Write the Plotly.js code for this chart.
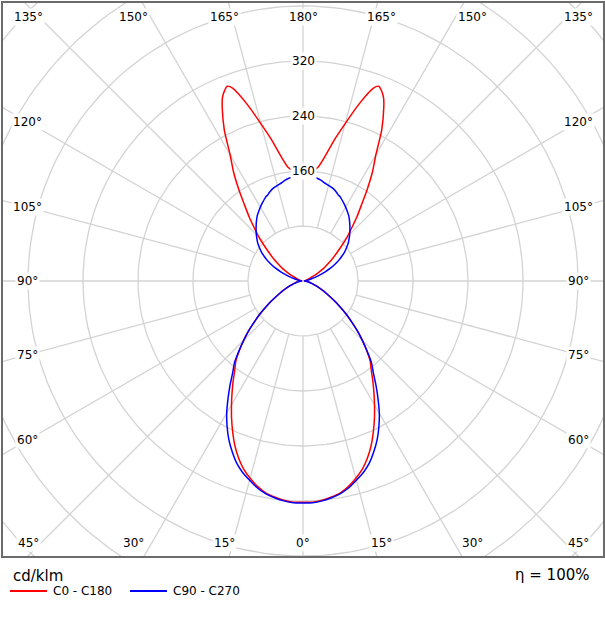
<!DOCTYPE html>
<html><head><meta charset="utf-8">
<script src="https://cdn.plot.ly/plotly-3.0.1.min.js"></script>
<style>html,body{margin:0;padding:0;background:#fff}</style>
</head><body><div id="chart" style="width:605px;height:620px"></div>
<script>
// gamma angle (deg) measured from nadir (0 = straight down, 180 = straight up)
const gamma = [0,2.5,5,7.5,10,12.5,15,17.5,20,22.5,25,27.5,30,32.5,35,37.5,40,42.5,45,47.5,50,52.5,55,57.5,60,62.5,65,67.5,70,72.5,75,77.5,80,82.5,85,87.5,90,
  92.5,95,97.5,100,102.5,105,107.5,110,112.5,115,117.5,120,122.5,125,127.5,130,132.5,135,137.5,140,142.5,145,147.5,150,152.5,155,156.25,157.5,158.75,160,162.5,165,167.5,170,172.5,175,177.5,180];
// luminous intensity, cd/klm — C0 - C180 plane (right half C0, left half C180)
const c0c180 = [322,322,320,317,313,306,297,287,274,259,242,225,208,192,177,163,152,137,122,107,92,79,66,55,45,37,30,25,20,16,13,11,9,7,5,3,2,
  2,2,3,3,4,5,6,8,11,15,22,30,38,46,55,65,77,91,105,122,140,163,188,212,248,278,291,299,304,298,269,237,210,184,167,161,159,158];
// C90 - C270 plane
const c90c270 = [323,323,321,318,314,308,300,292,282,269,255,239,222,203,185,168,155,138,122,107,92,79,66,55,45,37,31,25,20,16,13,10,8,6,4,3,2,
  2,3,5,7,10,13,19,27,35,44,52,60,67,74,80,86,91,96,101,106,111,116,120,124,128,132,134,135,137,139,142,144,146,149,151,152,153,153];
const seriesNames = ['C0 - C180','C90 - C270'];
const seriesColors = ['#ff0000','#0000ff'];
const ringValues = [80,160,240,320,400,480,560,640];
const ringLabelValues = [160,240,320];
const spokeAngles = [0,15,30,45,60,75,90,105,120,135,150,165,180,195,210,225,240,255,270,285,300,315,330,345];
const topLabels = ['135°','150°','165°','180°','165°','150°','135°'];
const sideLabels = ['120°','105°','90°','75°','60°'];
const bottomLabels = ['45°','30°','15°','0°','15°','30°','45°'];
const unitText = 'cd/klm';
const efficiencyText = 'η = 100%';

const FONT = 'DejaVu Sans, Verdana, sans-serif';
const rad = d => d*Math.PI/180;

function profile(vals){
  const x=[], y=[];
  for(let i=0;i<gamma.length;i++){ x.push(vals[i]*Math.sin(rad(gamma[i]))); y.push(-vals[i]*Math.cos(rad(gamma[i]))); }
  for(let i=gamma.length-1;i>=0;i--){ x.push(-vals[i]*Math.sin(rad(gamma[i]))); y.push(-vals[i]*Math.cos(rad(gamma[i]))); }
  return {x,y};
}

// grid
const gx=[], gy=[];
ringValues.forEach(r=>{
  for(let a=0;a<=360;a+=2){ gx.push(r*Math.cos(rad(a))); gy.push(r*Math.sin(rad(a))); }
  gx.push(null); gy.push(null);
});
spokeAngles.forEach(a=>{
  const rIn = ringValues[0], rOut = 900;
  gx.push(rIn*Math.sin(rad(a)), rOut*Math.sin(rad(a)), null);
  gy.push(-rIn*Math.cos(rad(a)), -rOut*Math.cos(rad(a)), null);
});

const red = profile(c0c180), blue = profile(c90c270);
const traces = [
  {x:gx,y:gy,mode:'lines',line:{color:'#d3d3d3',width:1.3},hoverinfo:'skip',showlegend:false},
  {x:red.x,y:red.y,mode:'lines',name:seriesNames[0],line:{color:seriesColors[0],width:1.5,shape:'spline',smoothing:0.6},showlegend:false},
  {x:blue.x,y:blue.y,mode:'lines',name:seriesNames[1],line:{color:seriesColors[1],width:1.5,shape:'spline',smoothing:0.6},showlegend:false}
];

const annotations = [];
const lblFont = {family:FONT,size:12,color:'#000'};
ringLabelValues.forEach(v=>annotations.push({x:0,y:v,text:String(v),showarrow:false,bgcolor:'#fff',borderpad:1,font:lblFont}));
const TB_R = 426, CLAMP = 400, TOP_Y = 384, BOT_Y = -381, SIDE_X = 401;
topLabels.forEach((t,i)=>{
  const th = 15*(i-3); let off = TB_R*Math.tan(rad(th)); off = Math.max(-CLAMP,Math.min(CLAMP,off));
  annotations.push({x:off,y:TOP_Y,text:t,showarrow:false,bgcolor:'#fff',borderpad:1,font:lblFont});
});
bottomLabels.forEach((t,i)=>{
  const th = 15*(i-3); let off = TB_R*Math.tan(rad(th)); off = Math.max(-CLAMP,Math.min(CLAMP,off));
  annotations.push({x:off,y:BOT_Y,text:t,showarrow:false,bgcolor:'#fff',borderpad:1,font:lblFont});
});
sideLabels.forEach((t,i)=>{
  const a = 30-15*i; const yy = SIDE_X*Math.tan(rad(a));
  annotations.push({x:-SIDE_X,y:yy,text:t,showarrow:false,bgcolor:'#fff',borderpad:1,font:lblFont});
  annotations.push({x:SIDE_X,y:yy,text:t,showarrow:false,bgcolor:'#fff',borderpad:1,font:lblFont});
});
// page-pixel helpers for items below the plot frame (plot area: x 3..603, y 3..556)
const px2paperX = p => (p-3)/600, px2paperY = p => (556-p)/553;
annotations.push({xref:'paper',yref:'paper',x:px2paperX(11),y:px2paperY(576),xanchor:'left',yanchor:'middle',text:unitText,showarrow:false,font:{family:FONT,size:15,color:'#000'}});
annotations.push({xref:'paper',yref:'paper',x:px2paperX(592),y:px2paperY(575),xanchor:'right',yanchor:'middle',text:efficiencyText,showarrow:false,font:{family:FONT,size:15,color:'#000'}});

// legend: swatch lines + names
const shapes = [];
const legendX = [10,130], legendY = 591, swatchLen = 37;
seriesNames.forEach((n,i)=>{
  shapes.push({type:'line',xref:'paper',yref:'paper',x0:px2paperX(legendX[i]),x1:px2paperX(legendX[i]+swatchLen),y0:px2paperY(legendY),y1:px2paperY(legendY),line:{color:seriesColors[i],width:2}});
  annotations.push({xref:'paper',yref:'paper',x:px2paperX(legendX[i]+swatchLen+4),y:px2paperY(legendY),xanchor:'left',yanchor:'middle',text:n,showarrow:false,font:{family:FONT,size:12,color:'#000'}});
});

const ax = {showgrid:false,zeroline:false,showticklabels:false,ticks:'',showline:true,mirror:true,linecolor:'#6b6b6b',linewidth:2,fixedrange:true};
const layout = {
  width:605,height:620,margin:{l:3,r:2,t:3,b:64},
  paper_bgcolor:'#fff',plot_bgcolor:'#fff',
  xaxis:Object.assign({range:[-436.36,436.36]},ax),
  yaxis:Object.assign({range:[-400,404.36]},ax),
  showlegend:false,
  annotations:annotations,
  shapes:shapes
};
Plotly.newPlot('chart',traces,layout,{staticPlot:true,displayModeBar:false});
</script></body></html>
